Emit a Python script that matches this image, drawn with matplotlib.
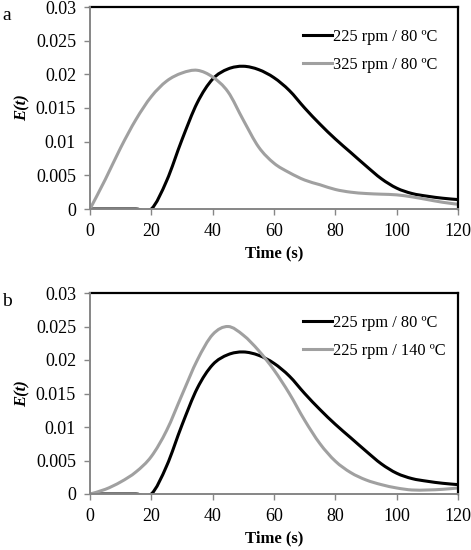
import matplotlib
matplotlib.use("Agg")
import matplotlib.pyplot as plt
import numpy as np
from matplotlib.path import Path
from matplotlib.patches import PathPatch
from matplotlib.lines import Line2D

plt.rcParams["font.family"] = ["Liberation Serif", "DejaVu Serif"]

# time axis (s), 5 s steps
t = [0, 5, 10, 15, 20, 25, 30, 35, 40, 45, 50, 55, 60, 65, 70, 75,
     80, 85, 90, 95, 100, 105, 110, 115, 120]

# 225 rpm / 80 C (same run in both panels)
e_225_80 = [0, 0, 0, 0, 0, 0.0042, 0.0103, 0.0158, 0.0193, 0.0208, 0.0212,
            0.0207, 0.0195, 0.0176, 0.0150, 0.0126, 0.0104, 0.0084, 0.0064,
            0.0045, 0.0031, 0.0023, 0.0019, 0.0016, 0.0014]

# 325 rpm / 80 C
e_325_80 = [0, 0.0044, 0.0091, 0.0133, 0.0167, 0.0190, 0.0202, 0.0206,
            0.0196, 0.0174, 0.0132, 0.0092, 0.0068, 0.0054, 0.0043, 0.0036,
            0.0029, 0.0025, 0.0023, 0.0022, 0.0021, 0.0018, 0.0014, 0.0010,
            0.0007]

# 225 rpm / 140 C
e_225_140 = [0, 0.0007, 0.0018, 0.0033, 0.0056, 0.0095, 0.0148, 0.0200,
             0.0238, 0.0250, 0.0237, 0.0214, 0.0185, 0.0150, 0.0110, 0.0075,
             0.0049, 0.0032, 0.0021, 0.0014, 0.0009, 0.0006, 0.0006, 0.0007,
             0.0009]

panels = [
    ("a", [(e_225_80, "225 rpm / 80 ºC", "black"),
           (e_325_80, "325 rpm / 80 ºC", "#a0a0a0")]),
    ("b", [(e_225_80, "225 rpm / 80 ºC", "black"),
           (e_225_140, "225 rpm / 140 ºC", "#a0a0a0")]),
]


def smooth_path(x, y):
    # Excel-style smoothed line: bezier segments with catmull-rom handles
    p = np.column_stack([x, y]).astype(float)
    ext = np.vstack([p[0], p, p[-1]])
    verts, codes = [p[0]], [Path.MOVETO]
    for i in range(len(p) - 1):
        p0, p1, p2, p3 = ext[i], ext[i + 1], ext[i + 2], ext[i + 3]
        verts += [p1 + (p2 - p0) / 6, p2 - (p3 - p1) / 6, p2]
        codes += [Path.CURVE4] * 3
    return Path(verts, codes)


W, H = 471, 550
fig = plt.figure(figsize=(W / 100, H / 100), dpi=100)
boxes = [(90, 7, 458, 209), (90, 293, 458, 494)]  # px: left, top, right, bottom

for (tag, series), (l, tp, r, b) in zip(panels, boxes):
    ax = fig.add_axes([l / W, 1 - b / H, (r - l) / W, (b - tp) / H])
    handles = []
    for y, lab, col in series:
        ax.add_patch(PathPatch(smooth_path(t, y), fill=False, edgecolor=col,
                               lw=2.2, capstyle="butt", zorder=2))
        handles.append(Line2D([], [], color=col, lw=2.2, label=lab))
    ax.set_xlim(0, 120)
    ax.set_ylim(0, 0.03)
    ax.set_xticks(range(0, 121, 20))
    ax.set_yticks([0, 0.005, 0.01, 0.015, 0.02, 0.025, 0.03])
    ax.set_yticklabels(["0", "0.005", "0.01", "0.015", "0.02", "0.025", "0.03"])
    for s in ("top", "right"):
        ax.spines[s].set_color("black")
        ax.spines[s].set_linewidth(1.6)
    for s in ("left", "bottom"):
        ax.spines[s].set_color("#868686")
        ax.spines[s].set_linewidth(1.4)
        ax.spines[s].set_zorder(3)
    ax.tick_params(direction="out", length=4, width=1, color="#868686",
                   labelsize=13, pad=6)
    ax.set_xlabel("Time (s)", fontsize=12, fontweight="bold", labelpad=4)
    ax.set_ylabel("E(t)", fontsize=12, fontweight="bold", style="italic",
                  labelpad=4)
    ax.legend(handles=handles, loc="upper left", bbox_to_anchor=(0.58, 0.89),
              frameon=False, fontsize=11.8, handlelength=1.75,
              handletextpad=0.05, labelspacing=0.7, borderpad=0,
              borderaxespad=0)
    fig.text(2 / W, 1 - (tp + 9) / H, tag, fontsize=14, va="center")

fig.savefig("out.png", dpi=100)
